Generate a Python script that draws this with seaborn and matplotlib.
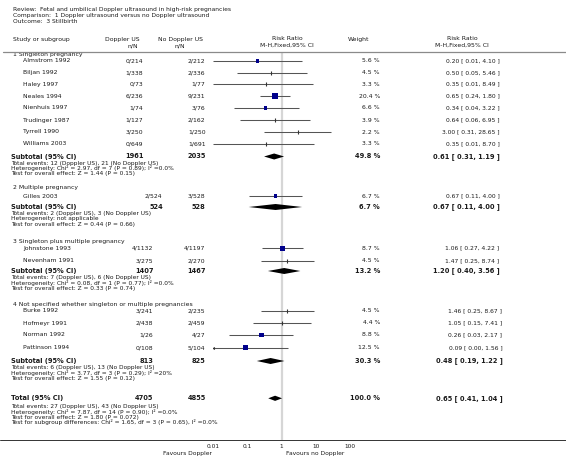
import matplotlib
matplotlib.use("Agg")
import matplotlib.pyplot as plt
import matplotlib.transforms as mtransforms
from matplotlib.lines import Line2D
import pandas as pd
import seaborn as sns

# ---- data ----
review = "Review:  Fetal and umbilical Doppler ultrasound in high-risk pregnancies"
comparison = "Comparison:  1 Doppler ultrasound versus no Doppler ultrasound"
outcome = "Outcome:  3 Stillbirth"

groups = ["1 Singleton pregnancy", "2 Multiple pregnancy",
          "3 Singleton plus multiple pregnancy",
          "4 Not specified whether singleton or multiple pregnancies"]

study_group = [0, 0, 0, 0, 0, 0, 0, 0, 1, 2, 2, 3, 3, 3, 3]
studies = ["Almstrom 1992", "Biljan 1992", "Haley 1997", "Neales 1994", "Nienhuis 1997",
           "Trudinger 1987", "Tyrrell 1990", "Williams 2003", "Gilles 2003",
           "Johnstone 1993", "Nevenham 1991", "Burke 1992", "Hofmeyr 1991",
           "Norman 1992", "Pattinson 1994"]
doppler_nN = ["0/214", "1/338", "0/73", "6/236", "1/74", "1/127", "3/250", "0/649",
              "2/524", "4/1132", "3/275", "3/241", "2/438", "1/26", "0/108"]
no_doppler_nN = ["2/212", "2/336", "1/77", "9/231", "3/76", "2/162", "1/250", "1/691",
                 "3/528", "4/1197", "2/270", "2/235", "2/459", "4/27", "5/104"]
weights = [5.6, 4.5, 3.3, 20.4, 6.6, 3.9, 2.2, 3.3, 6.7, 8.7, 4.5, 4.5, 4.4, 8.8, 12.5]
rr = [0.20, 0.50, 0.35, 0.65, 0.34, 0.64, 3.00, 0.35, 0.67, 1.06, 1.47, 1.46, 1.05, 0.26, 0.09]
rr_lo = [0.01, 0.05, 0.01, 0.24, 0.04, 0.06, 0.31, 0.01, 0.11, 0.27, 0.25, 0.25, 0.15, 0.03, 0.00]
rr_hi = [4.10, 5.46, 8.49, 1.80, 3.22, 6.95, 28.65, 8.70, 4.00, 4.22, 8.74, 8.67, 7.41, 2.17, 1.56]

sub_doppler_n = [1961, 524, 1407, 813]
sub_no_doppler_n = [2035, 528, 1467, 825]
sub_weight = [49.8, 6.7, 13.2, 30.3]
sub_rr = [0.61, 0.67, 1.20, 0.48]
sub_lo = [0.31, 0.11, 0.40, 0.19]
sub_hi = [1.19, 4.00, 3.56, 1.22]
sub_notes = [
    ["Total events: 12 (Doppler US), 21 (No Doppler US)",
     "Heterogeneity: Chi² = 2.97, df = 7 (P = 0.89); I² =0.0%",
     "Test for overall effect: Z = 1.44 (P = 0.15)"],
    ["Total events: 2 (Doppler US), 3 (No Doppler US)",
     "Heterogeneity: not applicable",
     "Test for overall effect: Z = 0.44 (P = 0.66)"],
    ["Total events: 7 (Doppler US), 6 (No Doppler US)",
     "Heterogeneity: Chi² = 0.08, df = 1 (P = 0.77); I² =0.0%",
     "Test for overall effect: Z = 0.33 (P = 0.74)"],
    ["Total events: 6 (Doppler US), 13 (No Doppler US)",
     "Heterogeneity: Chi² = 3.77, df = 3 (P = 0.29); I² =20%",
     "Test for overall effect: Z = 1.55 (P = 0.12)"],
]

total_doppler_n = 4705
total_no_doppler_n = 4855
total_weight = 100.0
total_rr, total_lo, total_hi = 0.65, 0.41, 1.04
total_notes = ["Total events: 27 (Doppler US), 43 (No Doppler US)",
               "Heterogeneity: Chi² = 7.87, df = 14 (P = 0.90); I² =0.0%",
               "Test for overall effect: Z = 1.80 (P = 0.072)",
               "Test for subgroup differences: Chi² = 1.65, df = 3 (P = 0.65), I² =0.0%"]

x_ticks = [0.01, 0.1, 1, 10, 100]
x_ticklabels = ["0.01", "0.1", "1", "10", "100"]

# ---- layout (pixel rows measured from the top of the page) ----
W, H = 566, 459
header_rows = [54.5, 187, 242, 304.5]
study_rows = [61, 72.7, 84.3, 96, 107.7, 120.3, 132, 143.7,
              196, 248.3, 260.7, 311, 323, 335, 347.7]
subtotal_rows = [156.5, 207, 271, 361]
note_offsets = [6.5, 11.8, 17.1]
total_row = 398.3
total_note_rows = [406.5, 411.8, 417.1, 422.4]
col1_right = [143, 162, 153, 153]   # RevMan shifts this column per subgroup
rr_right = [499.5, 499.5, 499.5, 502.5]
TXT = "#1a1a1a"

sns.set_style("white")
plt.rcParams["font.family"] = ["DejaVu Sans"]

fig = plt.figure(figsize=(W / 100, H / 100), dpi=100)
ax_top, ax_bot = 52, 440
ax = fig.add_axes([213 / W, 1 - ax_bot / H, (350 - 213) / W, (ax_bot - ax_top) / H])
ax.set_xscale("log")
ax.set_xlim(0.01, 100)
ax.set_ylim(ax_bot, ax_top)
ax.set_facecolor("none")

tr = mtransforms.blended_transform_factory(fig.transFigure, ax.transData)


def put(x, y, s, ha="left", bold=False, size=4.4):
    ax.text(x / W, y, s, transform=tr, ha=ha, va="center", fontsize=size,
            fontweight="bold" if bold else "normal", color=TXT, clip_on=False)


# header block
for y, s in zip([9.5, 15.5, 21.5], [review, comparison, outcome]):
    put(13, y, s, size=4.3)
put(13, 39, "Study or subgroup")
put(140, 39, "Doppler US", ha="right")
put(138, 45.5, "n/N", ha="right")
put(203, 39, "No Doppler US", ha="right")
put(185, 45.5, "n/N", ha="right")
put(287, 39, "Risk Ratio", ha="center")
put(287, 45.5, "M-H,Fixed,95% CI", ha="center")
put(359, 39, "Weight", ha="center")
put(462, 39, "Risk Ratio", ha="center")
put(462, 45.5, "M-H,Fixed,95% CI", ha="center")

fig.add_artist(Line2D([0.005, 1], [1 - 52 / H] * 2, transform=fig.transFigure,
                      color="#8a8a8a", lw=0.9))
fig.add_artist(Line2D([0, 1], [1 - ax_bot / H] * 2, transform=fig.transFigure,
                      color="#333333", lw=0.7))

# line of no effect
ax.axvline(1, color="#d6d6d6", lw=1.6, zorder=0)

# study rows
xmin = ax.get_xlim()[0]
for i, name in enumerate(studies):
    g = study_group[i]
    y = study_rows[i]
    put(23, y, name)
    put(col1_right[g], y, doppler_nN[i], ha="right")
    put(205.5, y, no_doppler_nN[i], ha="right")
    put(380, y, f"{weights[i]:.1f} %", ha="right")
    put(rr_right[g], y, f"{rr[i]:.2f} [ {rr_lo[i]:.2f}, {rr_hi[i]:.2f} ]", ha="right", size=4.3)
    lo = max(rr_lo[i], xmin)
    ax.hlines(y, lo, rr_hi[i], color="#555555", lw=0.75)
    if rr_lo[i] < xmin:
        ax.plot(xmin, y, marker="<", ms=2.2, color="#333333", mew=0)
    if weights[i] < 5:
        ax.plot(rr[i], y, marker="|", ms=2.8, mew=0.8, color="#333333", ls="none")

sq = pd.DataFrame({"rr": rr, "y": study_rows, "weight": weights})
sq = sq[sq["weight"] >= 5]
sns.scatterplot(data=sq, x="rr", y="y", size="weight", sizes=(0, 24), size_norm=(0, 20.4),
                marker="s", color="#00008b", edgecolor="none", legend=False, ax=ax, zorder=3)


def diamond(est, lo, hi, y, half=3.0):
    ax.fill([lo, est, hi, est], [y, y - half, y, y + half], color="black", lw=0, zorder=3)


for g, name in enumerate(groups):
    put(13, header_rows[g], name)
    y = subtotal_rows[g]
    put(11, y, "Subtotal (95% CI)", bold=True, size=4.8)
    put(col1_right[g] + 1, y, str(sub_doppler_n[g]), ha="right", bold=True, size=4.8)
    put(205.5, y, str(sub_no_doppler_n[g]), ha="right", bold=True, size=4.8)
    put(380, y, f"{sub_weight[g]:.1f} %", ha="right", bold=True, size=4.8)
    put(rr_right[g], y, f"{sub_rr[g]:.2f} [ {sub_lo[g]:.2f}, {sub_hi[g]:.2f} ]",
        ha="right", bold=True, size=4.8)
    diamond(sub_rr[g], sub_lo[g], sub_hi[g], y)
    for off, note in zip(note_offsets, sub_notes[g]):
        put(11, y + off, note, size=4.2)

# overall total
put(11, total_row, "Total (95% CI)", bold=True, size=4.8)
put(153, total_row, str(total_doppler_n), ha="right", bold=True, size=4.8)
put(205.5, total_row, str(total_no_doppler_n), ha="right", bold=True, size=4.8)
put(380, total_row, f"{total_weight:.1f} %", ha="right", bold=True, size=4.8)
put(502.5, total_row, f"{total_rr:.2f} [ {total_lo:.2f}, {total_hi:.2f} ]",
    ha="right", bold=True, size=4.8)
diamond(total_rr, total_lo, total_hi, total_row, half=2.6)
for y, note in zip(total_note_rows, total_notes):
    put(11, y, note, size=4.2)

# axis
ax.set_xticks(x_ticks)
ax.set_xticklabels(x_ticklabels)
ax.minorticks_off()
ax.tick_params(axis="x", length=2, width=0.6, pad=1.2, labelsize=4.2, colors=TXT)
ax.set_yticks([])
ax.set_xlabel("")
ax.set_ylabel("")
for sp in ax.spines.values():
    sp.set_visible(False)
put(212, 454, "Favours Doppler", ha="right", size=4.3)
put(286, 454, "Favours no Doppler", size=4.3)

fig.savefig("out.png", dpi=100, facecolor="white")
